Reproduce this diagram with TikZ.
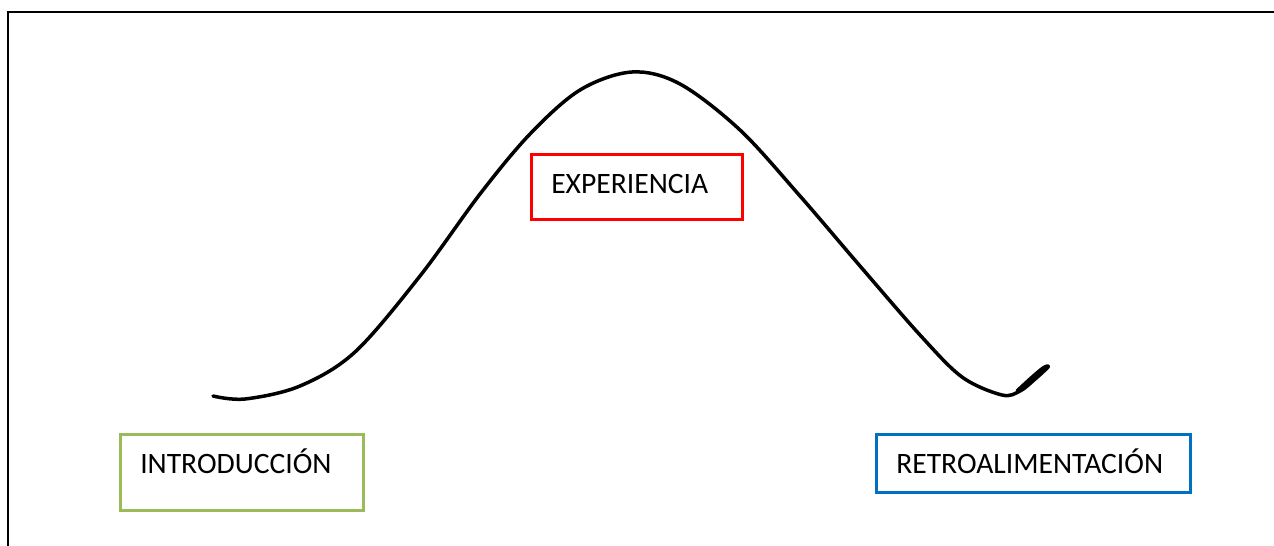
\documentclass[tikz,border=0pt]{standalone}
\usepackage{fontspec}
\setmainfont{Carlito}
\usetikzlibrary{positioning}
\definecolor{introgreen}{HTML}{9BBB59}
\definecolor{exred}{HTML}{FF0000}
\definecolor{retroblue}{HTML}{0070C0}

\begin{document}
\begin{tikzpicture}[x=0.5pt, y=-0.5pt,
		stage/.style = {draw, line width=1.75pt, anchor=north west, align=left,
			inner xsep=10pt, inner ysep=0pt, text height=19.5pt,
			font=\fontsize{14.8}{16}\selectfont},
		frame/.style = {line width=1pt},
		wave/.style = {line width=1.75pt, line cap=round, line join=round}]
	\useasboundingbox (0,0) rectangle (1274,546);
	\draw[frame] (8,546) -- (8,12) -- (1274,12);

	\node[stage, draw=introgreen, text width=101.5pt, text depth=18.5pt] (intro) at (118.5,432.5) {INTRODUCCIÓN};
	\node[stage, draw=exred, text width=85.5pt, text depth=13pt] (exper) at (529.5,152.5) {EXPERIENCIA};
	\node[stage, draw=retroblue, text width=137pt, text depth=9.5pt] (retro) at (874.5,432.5) {RETROALIMENTACIÓN};

	% curva de la sesion
	\draw[wave] plot[smooth, tension=0.55] coordinates {
		(213,396) (245,399) (300,386) (355,352) (420,276) (480,194)
		(530,134) (580,90) (632,72) (680,84) (740,130) (800,196)
		(860,266) (920,335) (962,377) (1002,395) (1020,391) (1034,380) (1048,367)
		(1043,368) (1030,379) (1017,391)};
\end{tikzpicture}
\end{document}
